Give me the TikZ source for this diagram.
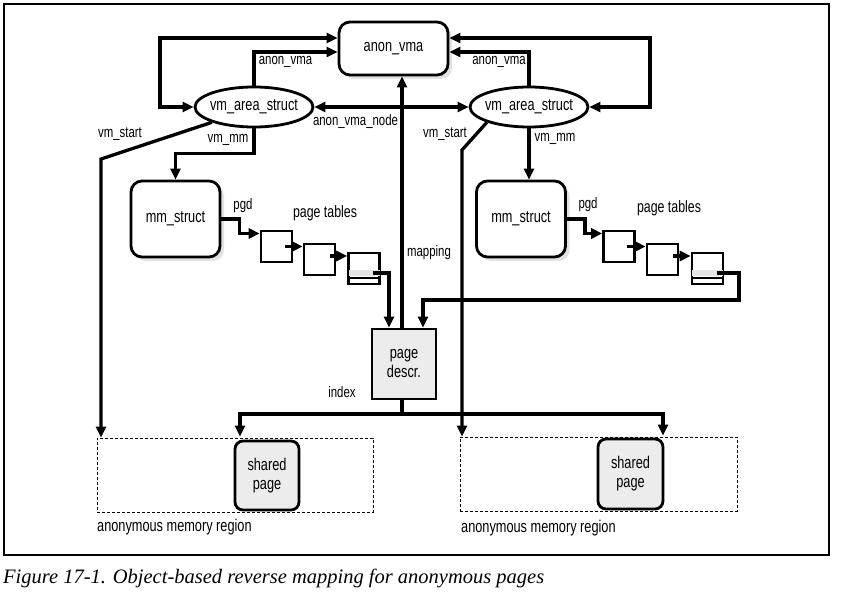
\documentclass[tikz,border=0pt]{standalone}
\usepackage{fontspec}
\setmainfont{Liberation Serif}
\setsansfont{Liberation Sans}[FakeStretch=0.75]
\usetikzlibrary{arrows.meta,shapes.geometric,shadows}

\begin{document}
\begin{tikzpicture}[x=1pt,y=-1pt]
\tikzset{StructStyle/.style = 
	{shape = rectangle,
		rounded corners = 11pt,
		line width = 2.8pt,
		fill = white,
		drop shadow = {shadow xshift=4pt, shadow yshift=-4pt, fill=gray!45},
		font = \sffamily\fontsize{17}{19}\selectfont,
		draw}}
\tikzset{EllStyle/.style = 
	{shape = ellipse,
		minimum width = 118pt,
		minimum height = 40pt,
		inner xsep = -3pt,
		line width = 2.8pt,
		fill = white,
		font = \sffamily\fontsize{17}{19}\selectfont,
		draw}}
\tikzset{TableStyle/.style = 
	{shape = rectangle,
		minimum size = 31pt,
		inner sep = 0pt,
		line width = 2.6pt,
		draw}}
\tikzset{PageStyle/.style = 
	{shape = rectangle,
		align = center,
		fill = gray!15,
		line width = 2.8pt,
		font = \sffamily\fontsize{17}{19}\selectfont,
		draw}}
\tikzset{RegionStyle/.style = 
	{shape = rectangle,
		dash pattern = on 3pt off 2pt,
		line width = 0.8pt,
		draw}}
\tikzset{LabelStyle/.style = 
	{inner sep = 0pt,
		font = \sffamily\fontsize{15.2}{17}\selectfont}}
\tikzset{Link/.style = {line width = 3.3pt, -{Triangle[length=11pt,width=10pt]}}}
\tikzset{BiLink/.style = {line width = 3.3pt, {Triangle[length=11pt,width=10pt]}-{Triangle[length=11pt,width=10pt]}}}

\useasboundingbox (0,0) rectangle (842,593);
\draw[line width=1.4pt] (4,4) rectangle (829,555);

\node[RegionStyle, minimum width=276pt, minimum height=74pt] (RegionLeft) at (235,475) {};
\node[RegionStyle, minimum width=277pt, minimum height=74pt] (RegionRight) at (598.5,474) {};

\node[StructStyle, minimum width=109pt, minimum height=53pt] (AnonVma) at (393.5,48.5) {anon\_vma};
\node[EllStyle] (VmaLeft) at (254,107) {vm\_area\_struct};
\node[EllStyle] (VmaRight) at (529,107) {vm\_area\_struct};
\node[StructStyle, minimum width=89pt, minimum height=76pt] (MmLeft) at (175.5,219) {mm\_struct};
\node[StructStyle, minimum width=89pt, minimum height=76pt] (MmRight) at (521,219) {mm\_struct};

\node[TableStyle] (PgdLeft) at (276.5,246.5) {};
\node[TableStyle] (PmdLeft) at (319.5,259.5) {};
\node[TableStyle] (PteLeft) at (364,268.5) {};
\node[TableStyle] (PgdRight) at (619,246.5) {};
\node[TableStyle] (PmdRight) at (662.5,259.5) {};
\node[TableStyle] (PteRight) at (707.5,268.5) {};
% gray entry in the last table
\fill[gray!20] ([xshift=1.3pt,yshift=-2pt]PteLeft.west) rectangle ([xshift=-1.3pt,yshift=-8pt]PteLeft.east);
\draw[line width=2.4pt] ([yshift=-9.5pt]PteLeft.west) -- ([yshift=-9.5pt]PteLeft.east);
\fill[gray!20] ([xshift=1.3pt,yshift=-2pt]PteRight.west) rectangle ([xshift=-1.3pt,yshift=-8pt]PteRight.east);
\draw[line width=2.4pt] ([yshift=-9.5pt]PteRight.west) -- ([yshift=-9.5pt]PteRight.east);

\node[PageStyle, minimum width=64pt, minimum height=70pt] (Descr) at (404,364) {page\\descr.};
\node[PageStyle, rounded corners=8pt, minimum width=64pt, minimum height=69pt] (SharedLeft) at (267,475.5) {shared\\page};
\node[PageStyle, rounded corners=8pt, minimum width=65pt, minimum height=70pt] (SharedRight) at (630.5,474) {shared\\page};

\coordinate (LoopLeft) at (160,38);
\coordinate (LoopRight) at (650,38);
\coordinate (StartLeft) at (101,159);
\coordinate (StartRight) at (462,150);
\coordinate (BendRight) at (739,300);
\coordinate (IndexBar) at (402,414);

\draw[BiLink] (AnonVma.west |- LoopLeft) -- (LoopLeft) |- (VmaLeft.west);
\draw[Link] (VmaLeft.north) |- ([yshift=-3.5pt]AnonVma.west);
\draw[BiLink] (AnonVma.east |- LoopRight) -- (LoopRight) |- (VmaRight.east);
\draw[Link] (VmaRight.north) |- ([yshift=-3.5pt]AnonVma.east);
\draw[BiLink] (VmaLeft) -- (VmaRight);
\draw[Link] ([xshift=-2pt]Descr.north) -- ([xshift=-2pt]Descr.north |- AnonVma.south);

\draw[Link] (VmaLeft.200) -- (StartLeft) -- (StartLeft |- RegionLeft.north);
\draw[Link] (VmaLeft.south) -- ++(0,25) -| (MmLeft.north);
\draw[Link] (VmaRight.200) -- (StartRight) -- (StartRight |- RegionRight.north);
\draw[Link] (VmaRight.south) -- (VmaRight.south |- MmRight.north);

\draw[Link] (MmLeft.east) -- ++(18,0) |- ([yshift=13pt]PgdLeft.west);
\draw[Link] ([xshift=8pt]PgdLeft.center) -- ([yshift=13pt]PmdLeft.west);
\draw[Link] ([xshift=10pt,yshift=3.5pt]PmdLeft.center) -- ([yshift=12.5pt]PteLeft.west);
\draw[Link] ([xshift=9pt,yshift=-4.5pt]PteLeft.center) -| ([xshift=-15pt]Descr.north);
\draw[Link] (MmRight.east) -- ++(18,0) |- ([yshift=13pt]PgdRight.west);
\draw[Link] ([xshift=8pt]PgdRight.center) -- ([yshift=13pt]PmdRight.west);
\draw[Link] ([xshift=10pt,yshift=3.5pt]PmdRight.center) -- ([yshift=12.5pt]PteRight.west);
\draw[Link] ([xshift=9pt,yshift=-4.5pt]PteRight.center) -| (BendRight) -| ([xshift=19pt]Descr.north);

\draw[line width=3.3pt] ([xshift=-2pt]Descr.south) -- (IndexBar);
\draw[Link] (IndexBar) -| ([xshift=-27pt,yshift=3pt]SharedLeft.north);
\draw[Link] (IndexBar) -| ([xshift=32.5pt,yshift=2pt]SharedRight.north);

\node[LabelStyle] (LblAnonLeft) at (285.5,62) {anon\_vma};
\node[LabelStyle] (LblAnonRight) at (499,62) {anon\_vma};
\node[LabelStyle] (LblNode) at (355.5,122) {anon\_vma\_node};
\node[LabelStyle] (LblStartLeft) at (120,134) {vm\_start};
\node[LabelStyle] (LblMmLeft) at (228,140) {vm\_mm};
\node[LabelStyle] (LblStartRight) at (445,134) {vm\_start};
\node[LabelStyle] (LblMmRight) at (555,139) {vm\_mm};
\node[LabelStyle] (LblPgdLeft) at (243,206) {pgd};
\node[LabelStyle] (LblPgdRight) at (588,205) {pgd};
\node[LabelStyle, font=\sffamily\fontsize{16.5}{18}\selectfont] (LblTabLeft) at (325,213) {page tables};
\node[LabelStyle, font=\sffamily\fontsize{16.5}{18}\selectfont] (LblTabRight) at (669,208) {page tables};
\node[LabelStyle] (LblMapping) at (429,253) {mapping};
\node[LabelStyle] (LblIndex) at (342,392) {index};
\node[LabelStyle, anchor=west, font=\sffamily\fontsize{17}{19}\selectfont] (LblRegLeft) at (97,527) {anonymous memory region};
\node[LabelStyle, anchor=west, font=\sffamily\fontsize{17}{19}\selectfont] (LblRegRight) at (461,528) {anonymous memory region};

\node[anchor=base west, inner sep=0pt, font=\itshape\fontsize{20.5}{22}\selectfont] (Caption) at (3,583) {Figure 17-1. Object-based reverse mapping for anonymous pages};
\end{tikzpicture}
\end{document}
